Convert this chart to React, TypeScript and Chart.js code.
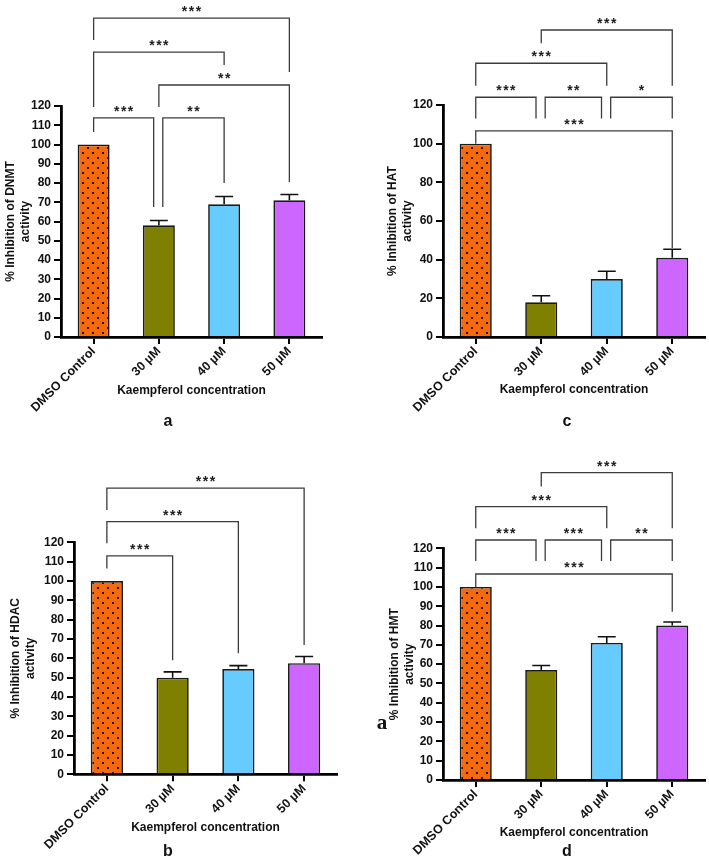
import { useEffect, useRef } from "react"
import { Chart, registerables } from "chart.js"
import type { Plugin } from "chart.js"

Chart.register(...registerables)

const FONT = '"Liberation Sans", Arial, sans-serif'

const categories = ["DMSO Control", "30 µM", "40 µM", "50 µM"]

// mean % inhibition and upper error (SEM) for each enzyme
const dnmtValues = [100, 58, 69, 71]
const dnmtErrors = [0, 2.5, 4, 3]
const hatValues = [100, 18, 30, 41]
const hatErrors = [0, 3.3, 4, 4.4]
const hdacValues = [100, 50, 54.5, 57.5]
const hdacErrors = [0, 3, 1.7, 3.4]
const hmtValues = [100, 57, 71, 80]
const hmtErrors = [0, 2.3, 3.2, 1.8]

// significance brackets: [from category, to category, top, left leg end, right leg end, stars]
type Bracket = [number, number, number, number, number, string]

const dnmtBrackets: Bracket[] = [
  [0, 0.92, 113.8, 106.5, 67.5, "***"],
  [1.06, 2, 113.8, 67.5, 80, "**"],
  [1, 3, 130.9, 119.5, 80.5, "**"],
  [0, 2, 148, 119.5, 141.3, "***"],
  [0, 3, 165.7, 154.3, 137.7, "***"],
]
const hatBrackets: Bracket[] = [
  [0, 0.92, 124, 113, 113, "***"],
  [1.06, 1.92, 124, 113, 113, "**"],
  [2.06, 3, 124, 113, 113, "*"],
  [0, 3, 106.6, 100, 46, "***"],
  [0, 2, 141.6, 130, 130, "***"],
  [1, 3, 158.8, 152, 130, "***"],
]
const hdacBrackets: Bracket[] = [
  [0, 1, 113, 106.5, 59, "***"],
  [0, 2, 130.7, 119.5, 62.6, "***"],
  [0, 3, 148, 136.7, 66.9, "***"],
]
const hmtBrackets: Bracket[] = [
  [0, 0.92, 124.3, 113.4, 113.4, "***"],
  [1.06, 1.92, 124.3, 113.4, 113.4, "***"],
  [2.06, 3, 124.3, 113.4, 113.4, "**"],
  [0, 3, 106.7, 100, 87.2, "***"],
  [0, 2, 141.6, 130.4, 130.4, "***"],
  [1, 3, 159.2, 152, 130.4, "***"],
]

const barColors = ["#F66A0E", "#808000", "#66CCFF", "#CC66FF"]

function dottedPattern(): CanvasPattern | string {
  const tile = document.createElement("canvas")
  tile.width = 10
  tile.height = 10
  const c = tile.getContext("2d")
  if (!c) return barColors[0]
  c.fillStyle = barColors[0]
  c.fillRect(0, 0, 10, 10)
  c.fillStyle = "#2a0f00"
  c.fillRect(2, 2, 2, 2)
  c.fillRect(7, 7, 2, 2)
  return c.createPattern(tile, "repeat") || barColors[0]
}

const errorBars = (errors: number[]): Plugin<"bar"> => ({
  id: "errorBars",
  afterDatasetsDraw(chart) {
    const { ctx } = chart
    const y = chart.scales.y
    const values = chart.data.datasets[0].data as number[]
    ctx.save()
    ctx.strokeStyle = "#111"
    ctx.lineWidth = 1.6
    chart.getDatasetMeta(0).data.forEach((bar, i) => {
      if (!errors[i]) return
      const { x, y: barTop, width } = bar.getProps(["x", "y", "width"], true) as any
      const top = y.getPixelForValue(values[i] + errors[i])
      const half = width * 0.28
      ctx.beginPath()
      ctx.moveTo(x, barTop)
      ctx.lineTo(x, top)
      ctx.moveTo(x - half, top)
      ctx.lineTo(x + half, top)
      ctx.stroke()
    })
    ctx.restore()
  },
})

const sigBrackets = (brackets: Bracket[]): Plugin<"bar"> => ({
  id: "sigBrackets",
  afterDraw(chart) {
    const { ctx } = chart
    const { x, y } = chart.scales
    ctx.save()
    ctx.strokeStyle = "#3c3c3c"
    ctx.lineWidth = 1.3
    ctx.fillStyle = "#1e1e1e"
    ctx.font = `bold 14px ${FONT}`
    ;(ctx as any).letterSpacing = "1.5px"
    ctx.textAlign = "center"
    ctx.textBaseline = "alphabetic"
    for (const [from, to, top, leftEnd, rightEnd, label] of brackets) {
      const x1 = x.getPixelForValue(from)
      const x2 = x.getPixelForValue(to)
      const yt = y.getPixelForValue(top)
      ctx.beginPath()
      ctx.moveTo(x1, y.getPixelForValue(leftEnd))
      ctx.lineTo(x1, yt)
      ctx.lineTo(x2, yt)
      ctx.lineTo(x2, y.getPixelForValue(rightEnd))
      ctx.stroke()
      ctx.fillText(label, (x1 + x2) / 2 + 0.75, yt - 2)
    }
    ctx.restore()
  },
})

interface Box {
  left: number
  top: number
  width: number
  height: number
  areaLeft: number
  areaTop: number
  areaRight: number
  areaBottom: number
  yTitlePad: number
  xTitleY: number
}

interface PanelProps {
  values: number[]
  errors: number[]
  brackets: Bracket[]
  yTitle: string[]
  yStep: number
  box: Box
}

function Panel({ values, errors, brackets, yTitle, yStep, box }: PanelProps) {
  const chartRef = useRef<HTMLCanvasElement>(null)
  const chartInstance = useRef<Chart | null>(null)

  useEffect(() => {
    if (!chartRef.current) return
    const ctx = chartRef.current.getContext("2d")
    if (!ctx) return
    if (chartInstance.current) chartInstance.current.destroy()

    // x scale runs to the bottom of the canvas so rotated labels are not clipped
    const xBottom = box.height - 1
    const xHeight = xBottom - box.areaBottom
    const titlePadBottom = xBottom - box.xTitleY - 7.2
    const colors = [dottedPattern(), ...barColors.slice(1)]

    chartInstance.current = new Chart(ctx, {
      type: "bar",
      data: {
        labels: categories,
        datasets: [
          {
            data: values,
            backgroundColor: colors as any,
            borderColor: "#1a1a1a",
            borderWidth: 1.7,
            categoryPercentage: 1,
            barPercentage: 0.49,
          },
        ],
      },
      options: {
        animation: false,
        responsive: true,
        maintainAspectRatio: false,
        events: [],
        layout: {
          padding: {
            left: 0,
            top: box.areaTop,
            right: box.width - box.areaRight,
            bottom: 1,
          },
        },
        plugins: {
          legend: { display: false },
          tooltip: { enabled: false },
        },
        scales: {
          x: {
            offset: true,
            afterFit: (scale) => {
              scale.height = xHeight
            },
            grid: {
              offset: false,
              drawOnChartArea: false,
              color: "#000",
              lineWidth: 2,
              tickLength: 7,
            },
            border: { color: "#000", width: 2.8 },
            ticks: {
              minRotation: 45,
              maxRotation: 45,
              padding: 0,
              color: "#111",
              font: { family: FONT, size: 12.5, weight: "bold" },
            },
            title: {
              display: true,
              text: "Kaempferol concentration",
              color: "#111",
              padding: { top: 0, bottom: titlePadBottom },
              font: { family: FONT, size: 12, weight: "bold", lineHeight: 1.2 },
            },
          },
          y: {
            min: 0,
            max: 120,
            afterFit: (scale) => {
              scale.width = box.areaLeft
            },
            grid: {
              drawOnChartArea: false,
              color: "#000",
              lineWidth: 2,
              tickLength: 7,
            },
            border: { color: "#000", width: 2.8 },
            ticks: {
              stepSize: yStep,
              padding: 3,
              color: "#111",
              font: { family: FONT, size: 12, weight: "bold" },
            },
            title: {
              display: true,
              text: yTitle,
              color: "#111",
              padding: { top: box.yTitlePad, bottom: 0 },
              font: { family: FONT, size: 12, weight: "bold", lineHeight: 1.25 },
            },
          },
        },
      },
      plugins: [errorBars(errors), sigBrackets(brackets)],
    })

    return () => {
      if (chartInstance.current) {
        chartInstance.current.destroy()
        chartInstance.current = null
      }
    }
  }, [values, errors, brackets, yTitle, yStep, box])

  return (
    <div style={{ position: "absolute", left: box.left, top: box.top, width: box.width, height: box.height }}>
      <canvas ref={chartRef}></canvas>
    </div>
  )
}

const boxA: Box = { left: 0, top: 0, width: 354, height: 430, areaLeft: 61, areaTop: 106, areaRight: 322, areaBottom: 337, yTitlePad: 3.3, xTitleY: 391 }
const boxC: Box = { left: 354, top: 0, width: 355, height: 430, areaLeft: 89, areaTop: 105, areaRight: 351, areaBottom: 337, yTitlePad: 31.5, xTitleY: 390 }
const boxB: Box = { left: 0, top: 430, width: 354, height: 432, areaLeft: 74, areaTop: 112.3, areaRight: 337, areaBottom: 344.3, yTitlePad: 8.3, xTitleY: 398 }
const boxD: Box = { left: 354, top: 430, width: 355, height: 432, areaLeft: 89, areaTop: 118.3, areaRight: 351, areaBottom: 350, yTitlePad: 33, xTitleY: 403 }

const letterStyle = (x: number, y: number): React.CSSProperties => ({
  position: "absolute",
  left: x,
  top: y,
  transform: "translate(-50%, -50%)",
  font: `bold 16px ${FONT}`,
  lineHeight: 1,
  color: "#111",
})

export default function App() {
  return (
    <div style={{ position: "absolute", left: 0, top: 0, width: 709, height: 862, background: "#fff", overflow: "hidden" }}>
      <Panel values={dnmtValues} errors={dnmtErrors} brackets={dnmtBrackets} yTitle={["% Inhibition of DNMT", "activity"]} yStep={10} box={boxA} />
      <Panel values={hatValues} errors={hatErrors} brackets={hatBrackets} yTitle={["% Inhibition of HAT", "activity"]} yStep={20} box={boxC} />
      <Panel values={hdacValues} errors={hdacErrors} brackets={hdacBrackets} yTitle={["% Inhibition of HDAC", "activity"]} yStep={10} box={boxB} />
      <Panel values={hmtValues} errors={hmtErrors} brackets={hmtBrackets} yTitle={["% Inhibition of HMT", "activity"]} yStep={10} box={boxD} />
      <div style={letterStyle(168, 421)}>a</div>
      <div style={letterStyle(567, 421)}>c</div>
      <div style={letterStyle(168, 851)}>b</div>
      <div style={letterStyle(567, 851)}>d</div>
      <div
        style={{
          position: "absolute",
          left: 382,
          top: 722,
          transform: "translate(-50%, -50%)",
          font: 'bold 21px "Liberation Serif", "Times New Roman", serif',
          lineHeight: 1,
          color: "#111",
        }}
      >
        a
      </div>
    </div>
  )
}
